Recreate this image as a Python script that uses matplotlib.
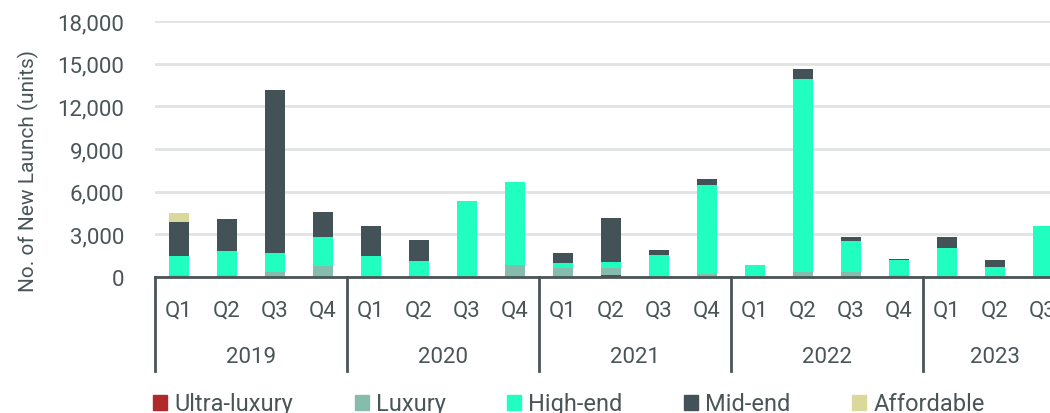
import matplotlib
matplotlib.use("Agg")
import matplotlib.pyplot as plt
import matplotlib.patches as mpatches
import numpy as np

plt.rcParams['font.family'] = ['Roboto', 'DejaVu Sans']

# Data: new launch units by segment, 2019 Q1 - 2023 Q3
years = ["2019", "2020", "2021", "2022", "2023"]
quarters_per_year = [4, 4, 4, 4, 3]
quarter_labels = ["Q1", "Q2", "Q3", "Q4"] * 4 + ["Q1", "Q2", "Q3"]

ultra_luxury = [0, 0, 0, 0, 0, 0, 0, 0, 0, 140, 0, 0, 0, 0, 0, 0, 0, 0, 0]
luxury = [150, 120, 350, 780, 0, 90, 0, 870, 615, 475, 0, 235, 0, 330, 330, 120, 0, 0, 0]
high_end = [1320, 1700, 1330, 2060, 1470, 1070, 5340, 5840, 375, 425, 1580, 6235,
            850, 13590, 2170, 1060, 2060, 710, 3620]
mid_end = [2430, 2290, 11490, 1720, 2120, 1470, 0, 0, 710, 3120, 310, 430,
           0, 730, 340, 100, 780, 520, 0]
affordable = [570, 0, 0, 0, 0, 0, 0, 0, 0, 0, 0, 0, 0, 0, 0, 0, 0, 0, 0]

series = [
    ("Ultra-luxury", ultra_luxury, "#b0292b"),
    ("Luxury", luxury, "#86bcab"),
    ("High-end", high_end, "#20ffc0"),
    ("Mid-end", mid_end, "#435256"),
    ("Affordable", affordable, "#dbd89b"),
]

text_color = "#4a5558"
W, H = 1050, 414
fig = plt.figure(figsize=(W / 100, H / 100), dpi=100)
# axes extends past the right edge, like the cropped reference
ax = fig.add_axes([155 / W, (H - 278) / H, 912 / W, 256 / H])

x = np.arange(len(quarter_labels))
bottom = np.zeros(len(x))
for name, vals, color in series:
    vals = np.array(vals, dtype=float)
    ax.bar(x, vals, width=0.4, bottom=bottom, color=color, edgecolor="none", zorder=3)
    bottom += vals

ax.set_xlim(-0.5, len(x) - 0.5)
ax.set_ylim(0, 18000)
ax.set_yticks(np.arange(0, 18001, 3000))
ax.set_yticklabels([f"{v:,}" for v in range(0, 18001, 3000)])
ax.tick_params(axis="y", length=0, pad=22, labelsize=16, labelcolor=text_color)
ax.grid(axis="y", color="#dfe4e2", linewidth=2, zorder=0)
for s in ["top", "right", "left"]:
    ax.spines[s].set_visible(False)
ax.spines["bottom"].set_color(text_color)
ax.spines["bottom"].set_linewidth(2)
ax.spines["bottom"].set_zorder(4)

# two-level category axis
ax.set_xticks([])
trans = ax.get_xaxis_transform()
axes_h = 256
for xi, q in zip(x, quarter_labels):
    ax.text(xi, -33 / axes_h, q, transform=trans, ha="center", va="center",
            fontsize=16, color=text_color)
start = 0
seps = [-0.5]
for yr, n in zip(years, quarters_per_year):
    ax.text(start + (n - 1) / 2, -80 / axes_h, yr, transform=trans, ha="center",
            va="center", fontsize=16, color=text_color)
    start += n
    seps.append(start - 0.5)
for sx in seps:
    ax.plot([sx, sx], [0, -94 / axes_h], transform=trans, color=text_color,
            linewidth=2, clip_on=False)

fig.text(28 / W, 1 - 171 / H, "No. of New Launch (units)", rotation=90,
         ha="center", va="center", fontsize=15, color=text_color)

handles = [mpatches.Patch(color=c, label=n) for n, _, c in series]
leg = fig.legend(handles=handles, loc="center", bbox_to_anchor=(569 / W, 1 - 405 / H),
                 ncol=5, frameon=False, fontsize=17, handlelength=0.6, handleheight=0.6,
                 handletextpad=0.3, columnspacing=2.6)
for t in leg.get_texts():
    t.set_color(text_color)

fig.savefig("out.png", dpi=100)
